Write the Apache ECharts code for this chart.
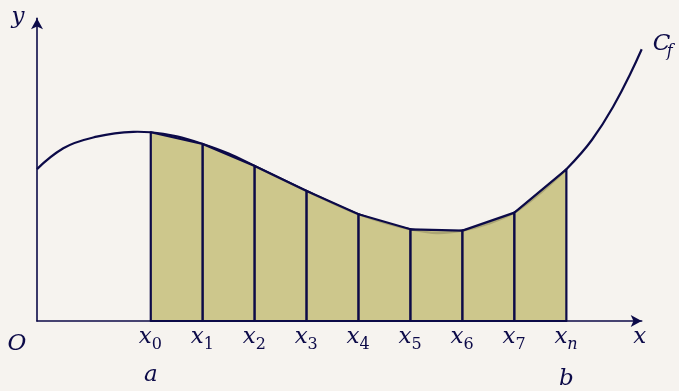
<!DOCTYPE html>
<html>
<head>
<meta charset="utf-8">
<script src="https://cdn.jsdelivr.net/npm/echarts@6/dist/echarts.min.js"></script>
<style>
  html, body { margin: 0; padding: 0; background: #f6f3ef; }
  #chart { width: 679px; height: 391px; }
</style>
</head>
<body>
<div id="chart"></div>
<script>
// The curve C_f, sampled along x
const curveX = [0, 0.506, 1.149, 1.854, 2.19, 2.69, 3.19, 3.69, 4.19, 5.19, 6.19, 7.19, 7.69, 8.19, 8.69, 9.19, 9.69, 10.19, 10.68, 11.09, 11.41, 11.64];
const curveY = [2.92, 3.321, 3.544, 3.638, 3.629, 3.55, 3.404, 3.22, 2.981, 2.50, 2.052, 1.763, 1.69, 1.737, 1.87, 2.083, 2.46, 2.917, 3.48, 4.12, 4.73, 5.225];

// Subdivision points x0 … xn and f at those points (trapezoid corners)
const nodeX = [2.19, 3.19, 4.19, 5.19, 6.19, 7.19, 8.19, 9.19, 10.19];
const nodeY = [3.629, 3.404, 2.981, 2.50, 2.052, 1.763, 1.737, 2.083, 2.917];
const nodeSub = ['0', '1', '2', '3', '4', '5', '6', '7', 'n'];

// Bounds of integration under x0 and xn
const boundNode = [0, 8];
const boundText = ['a', 'b'];

const X_MAX = 11.64;
const Y_MAX = 5.82;

const INK = '#0c0a48';
const FILL = 'rgba(198,191,124,0.86)';
const SERIF = '"DejaVu Serif", "Liberation Serif", serif';
const MAIN = 23;
const SUB = 16;

function txt(x, y, text, size, italic, align) {
  return {
    type: 'text', x: x, y: y,
    style: {
      text: text,
      font: (italic ? 'italic ' : '') + size + 'px ' + SERIF,
      fill: INK,
      align: align || 'center',
      verticalAlign: 'middle'
    }
  };
}

// Cubic Hermite spline through pixel points, returned as SVG path data
function splinePath(pts) {
  const n = pts.length;
  const d = [], h = [];
  for (let i = 0; i < n - 1; i++) {
    h.push(pts[i + 1][0] - pts[i][0]);
    d.push((pts[i + 1][1] - pts[i][1]) / h[i]);
  }
  const m = new Array(n);
  for (let i = 1; i < n - 1; i++) {
    m[i] = (h[i] * d[i - 1] + h[i - 1] * d[i]) / (h[i - 1] + h[i]);
  }
  m[0] = ((2 * h[0] + h[1]) * d[0] - h[0] * d[1]) / (h[0] + h[1]);
  const k = n - 2;
  m[n - 1] = ((2 * h[k] + h[k - 1]) * d[k] - h[k] * d[k - 1]) / (h[k] + h[k - 1]);
  let s = 'M' + pts[0][0] + ' ' + pts[0][1];
  for (let i = 0; i < n - 1; i++) {
    const t = h[i] / 3;
    s += ' C' + (pts[i][0] + t) + ' ' + (pts[i][1] + m[i] * t) + ' ' +
         (pts[i + 1][0] - t) + ' ' + (pts[i + 1][1] - m[i + 1] * t) + ' ' +
         pts[i + 1][0] + ' ' + pts[i + 1][1];
  }
  return s;
}

const chart = echarts.init(document.getElementById('chart'));

chart.setOption({
  animation: false,
  backgroundColor: '#f6f3ef',
  grid: { left: 37, right: 37.3, top: 18.3, bottom: 70, containLabel: false },
  xAxis: {
    type: 'value', min: 0, max: X_MAX,
    axisLine: { show: true, lineStyle: { color: INK, width: 1.6 }, symbol: ['none', 'arrow'], symbolSize: [9, 11] },
    axisTick: { show: false }, axisLabel: { show: false }, splitLine: { show: false }
  },
  yAxis: {
    type: 'value', min: 0, max: Y_MAX,
    axisLine: { show: true, lineStyle: { color: INK, width: 1.6 }, symbol: ['none', 'arrow'], symbolSize: [9, 11] },
    axisTick: { show: false }, axisLabel: { show: false }, splitLine: { show: false }
  },
  series: [
    {
      // the curve C_f
      type: 'custom',
      clip: false,
      z: 2,
      data: curveX.map((x, i) => [x, curveY[i]]),
      encode: { x: 0, y: 1 },
      renderItem: function (params, api) {
        if (params.dataIndex !== 0) return null;
        const pts = curveX.map((x, i) => api.coord([x, curveY[i]]));
        return {
          type: 'path',
          shape: { pathData: splinePath(pts) },
          style: { fill: 'none', stroke: INK, lineWidth: 2.2 }
        };
      }
    },
    {
      // trapezoids under the chords plus the x_i labels
      type: 'custom',
      clip: false,
      z: 3,
      data: nodeX.map((x, i) => [x, nodeY[i]]),
      encode: { x: 0, y: 1 },
      renderItem: function (params, api) {
        const i = params.dataIndex;
        const children = [];
        if (i < nodeX.length - 1) {
          children.push({
            type: 'polygon',
            shape: {
              points: [
                api.coord([nodeX[i], 0]),
                api.coord([nodeX[i], nodeY[i]]),
                api.coord([nodeX[i + 1], nodeY[i + 1]]),
                api.coord([nodeX[i + 1], 0])
              ]
            },
            style: { fill: FILL, stroke: INK, lineWidth: 2.2, lineJoin: 'round' }
          });
        }
        const base = api.coord([nodeX[i], 0]);
        children.push(txt(base[0] + 1, base[1] + 16, 'x', MAIN, true, 'right'));
        const sub = nodeSub[i];
        children.push(txt(base[0] + 1, base[1] + 24, sub, SUB, sub === 'n', 'left'));
        const b = boundNode.indexOf(i);
        if (b >= 0) {
          children.push(txt(base[0], base[1] + (b === 0 ? 54 : 58), boundText[b], MAIN, true));
        }
        return { type: 'group', children: children };
      }
    },
    {
      // axis names, origin and curve name
      type: 'custom',
      clip: false,
      z: 4,
      data: [[0, 0]],
      encode: { x: 0, y: 1 },
      renderItem: function (params, api) {
        const o = api.coord([0, 0]);
        const xe = api.coord([X_MAX, 0]);
        const ye = api.coord([0, Y_MAX]);
        const ce = api.coord([curveX[curveX.length - 1], curveY[curveY.length - 1]]);
        return {
          type: 'group',
          children: [
            txt(o[0] - 20, o[1] + 23, 'O', MAIN, true),
            txt(xe[0] - 2, xe[1] + 16, 'x', MAIN, true),
            txt(ye[0] - 19, ye[1] - 1, 'y', MAIN, true),
            txt(ce[0] + 11, ce[1] - 5, 'C', MAIN, true, 'left'),
            txt(ce[0] + 25, ce[1] + 3, 'f', SUB, true, 'left')
          ]
        };
      }
    }
  ]
});
</script>
</body>
</html>
